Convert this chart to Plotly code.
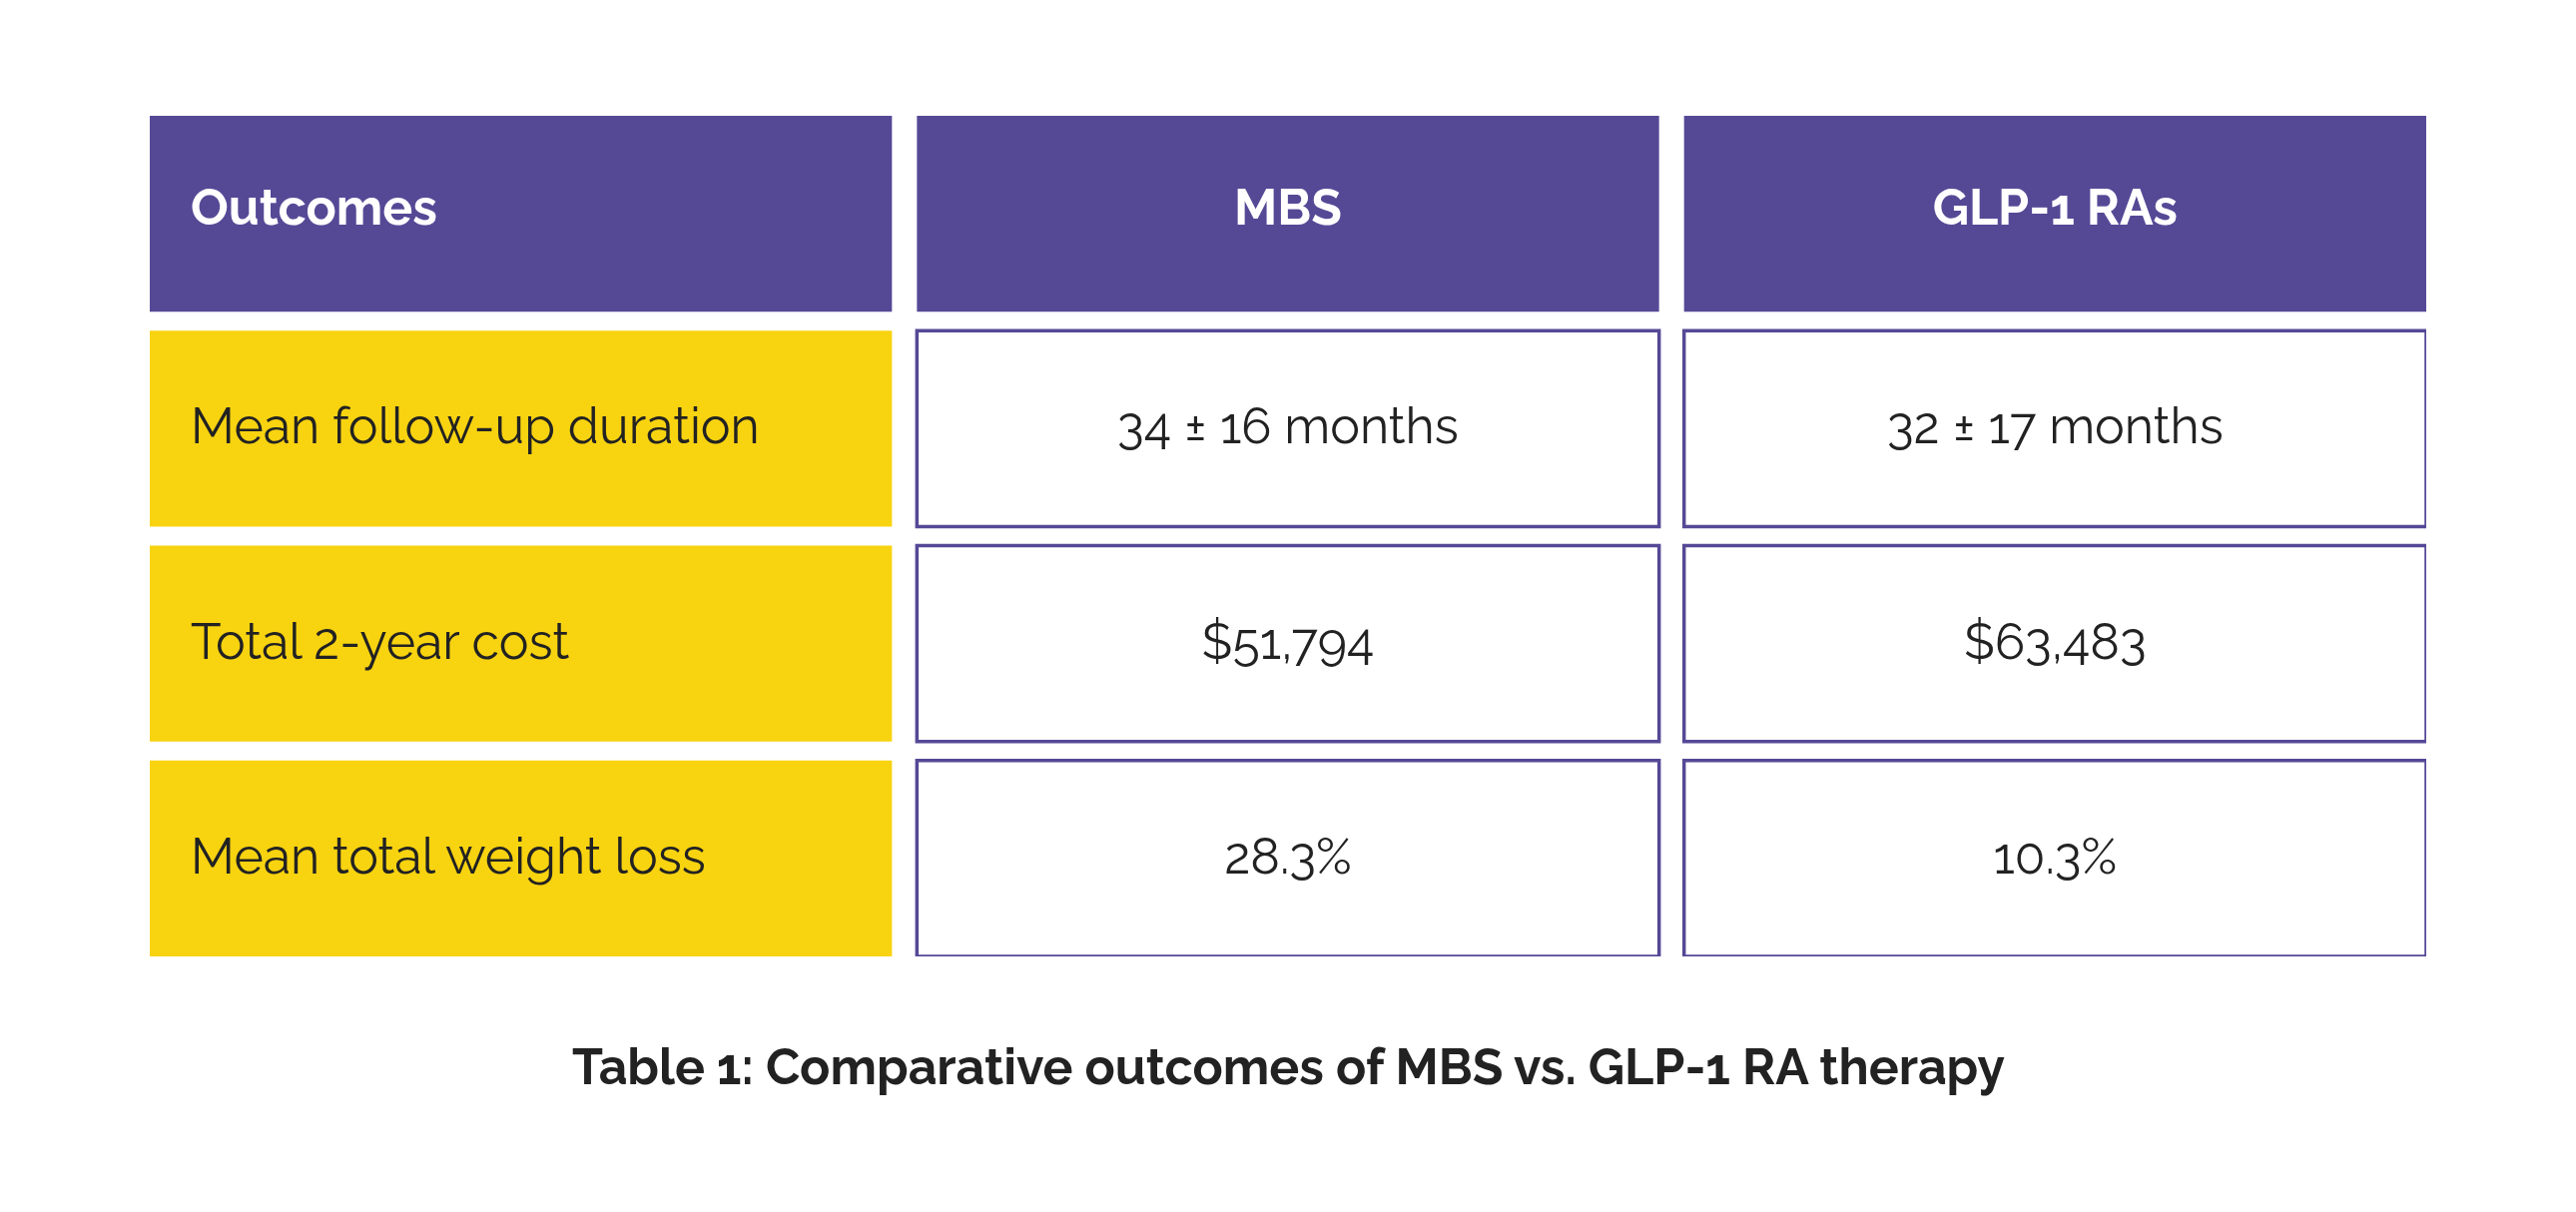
import plotly.graph_objects as go

headers = ["Outcomes", "MBS", "GLP-1 RAs"]
outcomes = ["Mean follow-up duration", "Total 2-year cost", "Mean total weight loss"]
mbs_values = ["34 ± 16 months", "$51,794", "28.3%"]
glp_values = ["32 ± 17 months", "$63,483", "10.3%"]
caption = "Table 1: Comparative outcomes of MBS vs. GLP-1 RA therapy"

PURPLE = "#554996"
YELLOW = "#F8D310"
TEXT = "#222222"
FONT = "Raleway, Lato, sans-serif"

ncols = 3
nrows = 4  # header + 3 body rows
col_w = 743 / 768      # column width relative to column pitch
col_gap = 1 - col_w
row_h = 196 / 215
row_gap = 1 - row_h
pad = 41 / 768

fig = go.Figure()

shapes = []
rows = [headers] + [[o, m, g] for o, m, g in zip(outcomes, mbs_values, glp_values)]
for r, row in enumerate(rows):
    y0 = r
    y1 = r + row_h
    for c, _ in enumerate(row):
        x0 = c
        x1 = c + col_w
        if r == 0:
            shapes.append(dict(type="rect", xref="x", yref="y", x0=x0, x1=x1, y0=y0, y1=y1,
                               fillcolor=PURPLE, line=dict(width=0), layer="below"))
        elif c == 0:
            shapes.append(dict(type="rect", xref="x", yref="y", x0=x0, x1=x1, y0=y0, y1=y1,
                               fillcolor=YELLOW, line=dict(width=0), layer="below"))
        else:
            shapes.append(dict(type="rect", xref="x", yref="y", x0=x0, x1=x1, y0=y0, y1=y1,
                               fillcolor="white", line=dict(color=PURPLE, width=3.5), layer="below"))

hdr_y = row_h / 2 - 0.008
body_off = 0.012
# header text
fig.add_trace(go.Scatter(
    x=[pad], y=[hdr_y], text=[headers[0]], mode="text",
    textposition="middle right",
    textfont=dict(family=FONT, size=50, color="white", weight="bold"),
    hoverinfo="skip", showlegend=False))
fig.add_trace(go.Scatter(
    x=[c + col_w / 2 for c in range(1, ncols)], y=[hdr_y] * (ncols - 1),
    text=headers[1:], mode="text", textposition="middle center",
    textfont=dict(family=FONT, size=50, color="white", weight="bold"),
    hoverinfo="skip", showlegend=False))

# first column body
fig.add_trace(go.Scatter(
    x=[pad] * len(outcomes), y=[r + 1 + row_h / 2 + body_off for r in range(len(outcomes))],
    text=outcomes, mode="text", textposition="middle right",
    textfont=dict(family=FONT, size=50, color=TEXT),
    hoverinfo="skip", showlegend=False))

# value columns
for c, vals in ((1, mbs_values), (2, glp_values)):
    fig.add_trace(go.Scatter(
        x=[c + col_w / 2] * len(vals), y=[r + 1 + row_h / 2 + body_off for r in range(len(vals))],
        text=vals, mode="text", textposition="middle center",
        textfont=dict(family=FONT, size=50, color=TEXT),
        hoverinfo="skip", showlegend=False))

plot_h = 958 - 116
fig.add_annotation(
    text=caption, xref="paper", yref="paper", x=0.5, y=-(1068 - 958) / plot_h,
    xanchor="center", yanchor="middle", showarrow=False,
    font=dict(family=FONT, size=50, color=TEXT, weight="bold"))

fig.update_layout(
    width=2580, height=1214,
    margin=dict(l=142, r=158, t=108, b=264),
    paper_bgcolor="white", plot_bgcolor="white",
    shapes=shapes,
    xaxis=dict(range=[0, ncols - col_gap], visible=False, fixedrange=True),
    yaxis=dict(range=[nrows - row_gap, 0], visible=False, fixedrange=True),
)

fig.write_html("out.html")
